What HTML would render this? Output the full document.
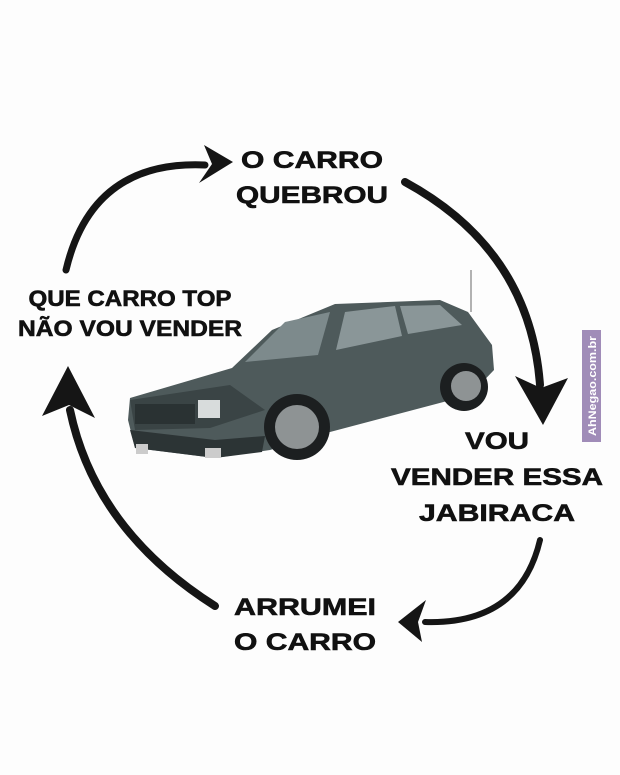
<!DOCTYPE html>
<html><head><meta charset="utf-8"><style>
html,body{margin:0;padding:0;background:#fff}
svg{display:block}
text{font-family:"Liberation Sans",sans-serif;font-weight:bold;fill:#111;stroke:#111;stroke-width:0.6}
</style></head><body>
<svg width="620" height="775" viewBox="0 0 620 775" xmlns="http://www.w3.org/2000/svg">
<rect width="620" height="775" fill="#fdfdfd"/>
<g fill="none" stroke="#151515" stroke-linecap="round">
<path d="M66,270 Q92,160 205,165" stroke-width="7"/>
<path d="M405,182 Q530,250 540,385" stroke-width="8"/>
<path d="M540,540 Q520,625 425,622" stroke-width="6"/>
<path d="M215,606 Q95,530 70,410" stroke-width="8"/>
</g>
<g fill="#151515">
<polygon points="233,162 204,145 212,164 199,183"/>
<polygon points="543,425 515,376 541,388 568,378"/>
<polygon points="398,622 426,600 418,622 422,642"/>
<polygon points="68,366 42,416 69,405 95,418"/>
</g>
<text x="312" y="168" font-size="24" text-anchor="middle" textLength="142" lengthAdjust="spacingAndGlyphs">O CARRO</text>
<text x="312" y="203" font-size="24" text-anchor="middle" textLength="152" lengthAdjust="spacingAndGlyphs">QUEBROU</text>
<text x="130" y="306" font-size="22" text-anchor="middle" textLength="203" lengthAdjust="spacingAndGlyphs">QUE CARRO TOP</text>
<text x="130" y="336" font-size="22" text-anchor="middle" textLength="224" lengthAdjust="spacingAndGlyphs">NÃO VOU VENDER</text>
<text x="497" y="449" font-size="24" text-anchor="middle" textLength="64" lengthAdjust="spacingAndGlyphs">VOU</text>
<text x="497" y="485" font-size="24" text-anchor="middle" textLength="212" lengthAdjust="spacingAndGlyphs">VENDER ESSA</text>
<text x="497" y="521" font-size="24" text-anchor="middle" textLength="156" lengthAdjust="spacingAndGlyphs">JABIRACA</text>
<text x="305" y="615" font-size="24" text-anchor="middle" textLength="142" lengthAdjust="spacingAndGlyphs">ARRUMEI</text>
<text x="305" y="650" font-size="24" text-anchor="middle" textLength="142" lengthAdjust="spacingAndGlyphs">O CARRO</text>
<line x1="471" y1="270" x2="471" y2="312" stroke="#999" stroke-width="1.5"/>
<path d="M130,398 L232,368 L272,330 L335,304 L440,300 L468,312 L492,345 L494,370 L470,395 L330,432 L270,450 L215,458 L135,448 L128,420 Z" fill="#4e5a5b"/>
<path d="M245,362 L285,322 L330,312 L318,355 Z" fill="#7d8a8c"/>
<path d="M336,350 L345,312 L395,306 L402,336 Z" fill="#8a9698"/>
<path d="M400,306 L440,305 L462,325 L408,334 Z" fill="#8a9698"/>
<path d="M130,400 L230,385 L265,410 L210,428 L135,430 Z" fill="#3a4445"/>
<rect x="135" y="404" width="60" height="20" fill="#2a3233"/>
<rect x="198" y="400" width="22" height="18" fill="#d8dcdc"/>
<path d="M130,430 L215,440 L265,436 L262,452 L215,458 L135,448 Z" fill="#2c3435"/>
<circle cx="297" cy="427" r="33" fill="#1c1f20"/>
<circle cx="297" cy="427" r="22" fill="#8e9394"/>
<circle cx="464" cy="387" r="24" fill="#1c1f20"/>
<circle cx="466" cy="386" r="15" fill="#8e9394"/>
<rect x="136" y="444" width="12" height="10" fill="#ccc"/>
<rect x="205" y="448" width="16" height="10" fill="#ccc"/>
<rect x="582" y="330" width="19" height="112" fill="#a08cb8"/>
<text transform="translate(596,436) rotate(-90)" font-size="11" style="fill:#fff;stroke:none" textLength="100" lengthAdjust="spacingAndGlyphs">AhNegao.com.br</text>
</svg>
</body></html>
